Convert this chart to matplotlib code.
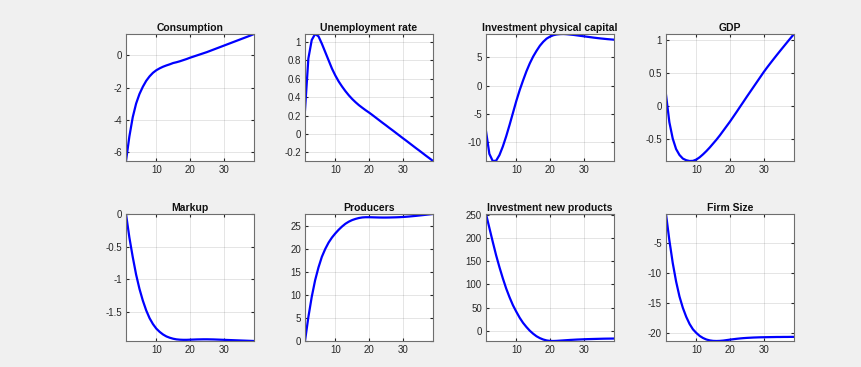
import numpy as np
import matplotlib.pyplot as plt

plt.rcParams['font.family'] = ['Liberation Sans', 'DejaVu Sans']

# Horizon (periods after the shock)
periods = np.arange(1, 40)

# Impulse responses
consumption = [-6.58, -5.05, -3.85, -3.0, -2.4, -1.95, -1.58, -1.3, -1.08, -0.92,
               -0.8, -0.7, -0.62, -0.55, -0.47, -0.42, -0.36, -0.29, -0.22, -0.14,
               -0.07, 0.0, 0.07, 0.14, 0.21, 0.29, 0.37, 0.45, 0.53, 0.61,
               0.69, 0.77, 0.85, 0.93, 1.01, 1.09, 1.17, 1.25, 1.34]
unemployment = [0.26, 0.82, 1.02, 1.085, 1.06, 0.98, 0.89, 0.8, 0.71, 0.635,
                0.57, 0.515, 0.465, 0.42, 0.38, 0.345, 0.313, 0.285, 0.258, 0.233,
                0.206, 0.178, 0.15, 0.122, 0.095, 0.067, 0.04, 0.012, -0.016, -0.044,
                -0.071, -0.099, -0.127, -0.155, -0.182, -0.21, -0.238, -0.265, -0.293]
invest_physical = [-8.0, -12.0, -13.25, -13.2, -12.2, -10.7, -8.9, -6.9, -4.8, -2.7,
                   -0.8, 0.9, 2.5, 3.9, 5.1, 6.1, 7.0, 7.7, 8.25, 8.6,
                   8.85, 8.98, 9.04, 9.06, 9.02, 8.96, 8.9, 8.82, 8.74, 8.66,
                   8.58, 8.5, 8.42, 8.35, 8.28, 8.22, 8.16, 8.11, 8.06]
gdp = [0.17, -0.25, -0.5, -0.66, -0.75, -0.805, -0.83, -0.842, -0.84, -0.82,
       -0.785, -0.74, -0.69, -0.635, -0.575, -0.515, -0.45, -0.38, -0.31, -0.24,
       -0.165, -0.09, -0.013, 0.063, 0.14, 0.215, 0.29, 0.365, 0.44, 0.515,
       0.585, 0.652, 0.718, 0.783, 0.847, 0.91, 0.973, 1.035, 1.097]
markup = [0.0, -0.36, -0.66, -0.93, -1.15, -1.33, -1.48, -1.6, -1.69, -1.76,
          -1.81, -1.85, -1.88, -1.9, -1.915, -1.925, -1.93, -1.932, -1.932, -1.93,
          -1.928, -1.926, -1.925, -1.924, -1.924, -1.925, -1.926, -1.928, -1.93, -1.932,
          -1.934, -1.936, -1.938, -1.94, -1.942, -1.944, -1.946, -1.948, -1.95]
producers = [0.0, 5.2, 9.6, 13.2, 16.0, 18.3, 20.0, 21.4, 22.5, 23.4,
             24.2, 24.9, 25.5, 25.95, 26.3, 26.55, 26.75, 26.87, 26.92, 26.92,
             26.9, 26.88, 26.86, 26.85, 26.85, 26.86, 26.88, 26.9, 26.93, 26.97,
             27.02, 27.08, 27.15, 27.22, 27.3, 27.38, 27.46, 27.54, 27.62]
invest_new = [252, 222, 192, 163, 137, 113, 91, 72, 55, 41,
              28, 17, 8, 0, -6.5, -12, -16, -19, -21, -22,
              -22.2, -21.9, -21.4, -20.9, -20.4, -19.9, -19.5, -19.1, -18.8, -18.5,
              -18.2, -18.0, -17.8, -17.6, -17.4, -17.2, -17.1, -17.0, -16.9]
firm_size = [-0.1, -4.5, -8.3, -11.4, -13.9, -15.8, -17.3, -18.5, -19.4, -20.0,
             -20.5, -20.85, -21.1, -21.25, -21.33, -21.35, -21.33, -21.28, -21.2, -21.12,
             -21.05, -20.98, -20.92, -20.87, -20.83, -20.8, -20.77, -20.75, -20.73, -20.72,
             -20.71, -20.7, -20.69, -20.68, -20.68, -20.67, -20.67, -20.66, -20.66]

titles = ["Consumption", "Unemployment rate", "Investment physical capital", "GDP",
          "Markup", "Producers", "Investment new products", "Firm Size"]
series = [consumption, unemployment, invest_physical, gdp,
          markup, producers, invest_new, firm_size]
yticks = [[-6, -4, -2, 0], [-0.2, 0, 0.2, 0.4, 0.6, 0.8, 1], [-10, -5, 0, 5],
          [-0.5, 0, 0.5, 1], [-1.5, -1, -0.5, 0], [0, 5, 10, 15, 20, 25],
          [0, 50, 100, 150, 200, 250], [-20, -15, -10, -5]]

fig = plt.figure(figsize=(8.62, 3.67), dpi=100, facecolor='#f0f0f0')

# Axes layout in pixels (left edges, rows' bottoms)
lefts = [126, 305, 486, 666]
bottoms = [206, 26]
W, H = 862, 367

for i, (title, values, ticks) in enumerate(zip(titles, series, yticks)):
    row, col = divmod(i, 4)
    ax = fig.add_axes([lefts[col] / W, bottoms[row] / H, 128 / W, 127 / H])
    ax.set_facecolor('white')
    ax.plot(periods, values, color='blue', linewidth=1.6)
    ax.set_xlim(1, 39)
    ax.set_ylim(min(values), max(values))
    ax.set_xticks([10, 20, 30])
    ax.set_yticks(ticks)
    ax.set_yticklabels([f"{t:g}" for t in ticks])
    ax.grid(True, color='#262626', alpha=0.12, linewidth=0.7)
    ax.tick_params(direction='in', length=2.5, labelsize=7, colors='#262626',
                   top=True, right=True, pad=3)
    for sp in ax.spines.values():
        sp.set_color('#6e6e6e')
        sp.set_linewidth(0.8)
    ax.set_title(title, fontsize=7.5, fontweight='bold', color='#111111', pad=2)

fig.savefig('out.png', dpi=100, facecolor=fig.get_facecolor())
